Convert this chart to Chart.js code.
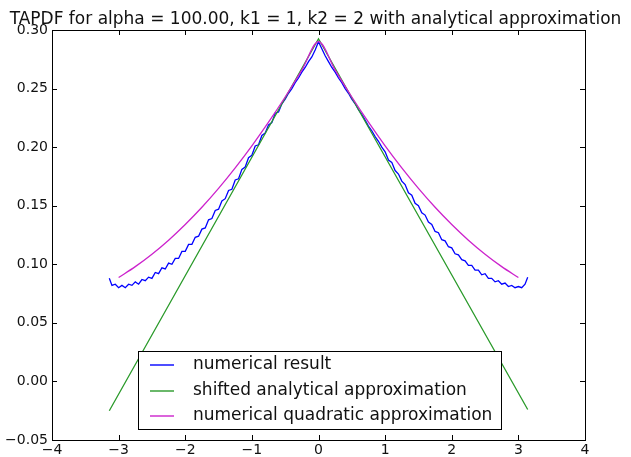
<!DOCTYPE html>
<html>
<head>
<meta charset="utf-8">
<script src="https://cdn.jsdelivr.net/npm/chart.js@4/dist/chart.umd.min.js"></script>
<style>
html,body{margin:0;padding:0;background:#fff;}
#wrap{width:631px;height:457px;}
</style>
</head>
<body>
<div id="wrap"><canvas id="c" width="631" height="457"></canvas></div>
<script>
const titleText = "TAPDF for alpha = 100.00, k1 = 1, k2 = 2 with analytical approximation";
const seriesNames = ["numerical result", "shifted analytical approximation", "numerical quadratic approximation"];

const numericalX = [-3.14,-3.10,-3.05,-3.00,-2.95,-2.90,-2.85,-2.80,-2.75,-2.70,-2.65,-2.60,-2.55,-2.50,-2.45,-2.40,-2.35,-2.30,-2.25,-2.20,-2.15,-2.10,-2.05,-2.00,-1.95,-1.90,-1.85,-1.80,-1.75,-1.70,-1.65,-1.60,-1.55,-1.50,-1.45,-1.40,-1.35,-1.30,-1.25,-1.20,-1.15,-1.10,-1.05,-1.00,-0.95,-0.90,-0.85,-0.80,-0.75,-0.70,-0.65,-0.60,-0.55,-0.50,-0.45,-0.40,-0.35,-0.30,-0.25,-0.20,-0.15,-0.10,-0.05,0.00,
0.05,0.10,0.15,0.20,0.25,0.30,0.35,0.40,0.45,0.50,0.55,0.60,0.65,0.70,0.75,0.80,0.85,0.90,0.95,1.00,1.05,1.10,1.15,1.20,1.25,1.30,1.35,1.40,1.45,1.50,1.55,1.60,1.65,1.70,1.75,1.80,1.85,1.90,1.95,2.00,2.05,2.10,2.15,2.20,2.25,2.30,2.35,2.40,2.45,2.50,2.55,2.60,2.65,2.70,2.75,2.80,2.85,2.90,2.95,3.00,3.05,3.10,3.14];
const numericalY = [0.088,0.082,0.083,0.080,0.082,0.080,0.083,0.082,0.085,0.083,0.087,0.086,0.089,0.088,0.093,0.092,0.097,0.096,0.101,0.100,0.105,0.105,0.111,0.111,0.117,0.117,0.123,0.124,0.130,0.131,0.138,0.139,0.146,0.147,0.154,0.156,0.163,0.164,0.172,0.173,0.181,0.183,0.191,0.193,0.201,0.202,0.210,0.212,0.219,0.221,0.229,0.230,0.237,0.241,0.246,0.250,0.255,0.259,0.264,0.268,0.273,0.277,0.283,0.290,
0.284,0.278,0.273,0.268,0.264,0.259,0.255,0.250,0.246,0.241,0.237,0.232,0.228,0.223,0.218,0.214,0.209,0.205,0.200,0.196,0.189,0.187,0.180,0.177,0.171,0.168,0.161,0.159,0.152,0.150,0.144,0.142,0.136,0.134,0.128,0.127,0.121,0.120,0.115,0.114,0.109,0.108,0.104,0.103,0.099,0.099,0.095,0.095,0.091,0.092,0.088,0.088,0.085,0.086,0.083,0.084,0.081,0.082,0.080,0.081,0.080,0.083,0.089];

const analyticalX = [-3.14, 0.00, 3.14];
const analyticalY = [-0.025, 0.2925, -0.024];

const quadraticX = [-3.00,-2.75,-2.50,-2.25,-2.00,-1.75,-1.50,-1.25,-1.00,-0.75,-0.50,-0.25,0.00,0.25,0.50,0.75,1.00,1.25,1.50,1.75,2.00,2.25,2.50,2.75,3.00];
const quadraticY = [0.0887,0.0980,0.1086,0.1206,0.1340,0.1487,0.1648,0.1823,0.2011,0.2213,0.2428,0.2657,0.2900,0.2657,0.2428,0.2213,0.2011,0.1823,0.1648,0.1487,0.1340,0.1206,0.1086,0.0980,0.0887];

const xTicks = [-4,-3,-2,-1,0,1,2,3,4];
const yTicks = [-0.05,0.00,0.05,0.10,0.15,0.20,0.25,0.30];

function pts(xs, ys){ return xs.map((x,i)=>({x:x, y:ys[i]})); }
function minus(s){ return String(s).replace('-', '\u2212'); }

const FONT = "'DejaVu Sans', sans-serif";

const framePlugin = {
  id: 'frame',
  afterDatasetsDraw(chart){
    const {ctx, chartArea:a, scales} = chart;
    ctx.save();
    ctx.strokeStyle = '#000';
    ctx.lineWidth = 1;
    ctx.beginPath();
    const L = 5;
    xTicks.forEach(v=>{
      const px = Math.round(scales.x.getPixelForValue(v)) + 0.5;
      ctx.moveTo(px, a.bottom); ctx.lineTo(px, a.bottom - L);
      ctx.moveTo(px, a.top); ctx.lineTo(px, a.top + L);
    });
    yTicks.forEach(v=>{
      const py = Math.round(scales.y.getPixelForValue(v)) + 0.5;
      ctx.moveTo(a.left, py); ctx.lineTo(a.left + L, py);
      ctx.moveTo(a.right, py); ctx.lineTo(a.right - L, py);
    });
    ctx.stroke();
    ctx.strokeRect(Math.round(a.left)+0.5, Math.round(a.top)+0.5, Math.round(a.right-a.left), Math.round(a.bottom-a.top));
    ctx.restore();
  },
  afterDraw(chart){
    const {ctx} = chart;
    const ds = chart.data.datasets;
    const bx = 138, by = 351, bw = 363, bh = 78;
    ctx.save();
    ctx.fillStyle = '#fff';
    ctx.fillRect(bx, by, bw, bh);
    ctx.strokeStyle = '#000';
    ctx.lineWidth = 1;
    ctx.strokeRect(bx+0.5, by+0.5, bw, bh);
    ctx.font = "17px " + FONT;
    ctx.textBaseline = 'middle';
    ctx.textAlign = 'left';
    const rows = [365, 391, 416];
    ds.forEach((d,i)=>{
      ctx.strokeStyle = d.borderColor;
      ctx.lineWidth = 1.4;
      ctx.beginPath();
      ctx.moveTo(150, rows[i]); ctx.lineTo(174, rows[i]);
      ctx.stroke();
      ctx.fillStyle = '#111';
      ctx.fillText(d.label, 193, rows[i]);
    });
    ctx.restore();
  }
};

new Chart(document.getElementById('c'), {
  type: 'scatter',
  data: {
    datasets: [
      {label: seriesNames[0], data: pts(numericalX, numericalY), borderColor: '#0000ff', showLine: true, pointRadius: 0, borderWidth: 1.3, fill: false, order: 3},
      {label: seriesNames[1], data: pts(analyticalX, analyticalY), borderColor: '#2a9a2a', showLine: true, pointRadius: 0, borderWidth: 1.3, fill: false, order: 2},
      {label: seriesNames[2], data: pts(quadraticX, quadraticY), borderColor: '#cc22cc', showLine: true, pointRadius: 0, borderWidth: 1.3, fill: false, cubicInterpolationMode: 'monotone', tension: 0.4, order: 1}
    ]
  },
  options: {
    responsive: false,
    animation: false,
    devicePixelRatio: 1,
    layout: {padding: 0},
    plugins: {
      legend: {display: false},
      tooltip: {enabled: false},
      title: {display: true, text: titleText, color: '#111', font: {family: FONT, size: 17, weight: 'normal', lineHeight: 1.176}, padding: {top: 10, bottom: 0}}
    },
    scales: {
      x: {
        type: 'linear', min: -4, max: 4,
        afterBuildTicks(s){ s.ticks = xTicks.map(v=>({value:v})); },
        afterFit(s){ s.height = 17; },
        grid: {display: false, drawTicks: false},
        border: {display: false},
        ticks: {color: '#111', font: {family: FONT, size: 14}, padding: 2, maxRotation: 0, callback: v => minus(v)}
      },
      y: {
        type: 'linear', min: -0.05, max: 0.30,
        afterBuildTicks(s){ s.ticks = yTicks.map(v=>({value:v})); },
        afterFit(s){ s.width = 52; },
        grid: {display: false, drawTicks: false},
        border: {display: false},
        ticks: {color: '#111', font: {family: FONT, size: 14}, padding: 4, callback: v => minus(Number(v).toFixed(2))}
      },
      yRight: {
        type: 'linear', position: 'right', min: -0.05, max: 0.30,
        afterFit(s){ s.width = 46; },
        grid: {display: false, drawTicks: false},
        border: {display: false},
        ticks: {display: false}
      }
    }
  },
  plugins: [framePlugin]
});
</script>
</body>
</html>
